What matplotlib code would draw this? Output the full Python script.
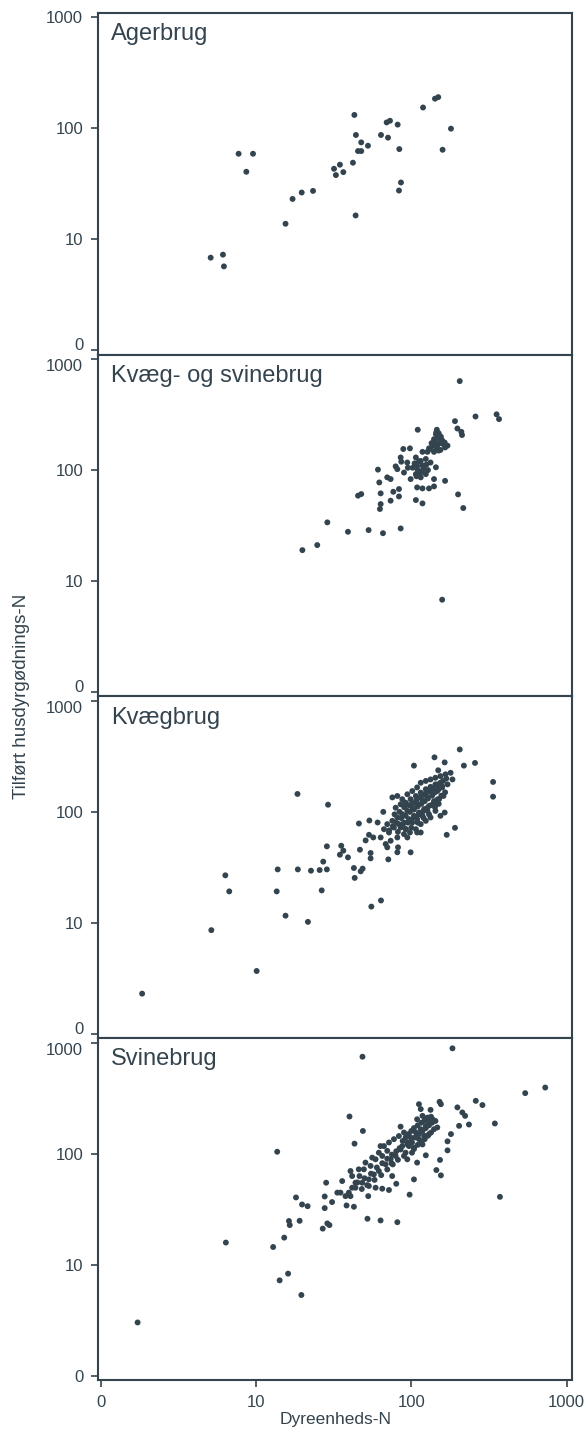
import matplotlib
matplotlib.use("Agg")
import matplotlib.pyplot as plt
import numpy as np

# panel names
panels = ["Agerbrug", "Kvæg- og svinebrug", "Kvægbrug", "Svinebrug"]

# Agerbrug (dyreenheds-N, tilfoert husdyrgoednings-N)
agerbrug_x = [5.11, 6.13, 6.22, 7.73, 9.57, 8.67, 15.5, 17.2, 19.7, 23.3, 31.8, 32.7,
              34.7, 36.5, 42.1, 43.0, 44.0, 43.8, 45.4, 47.6, 47.6, 52.6, 63.8, 70.8,
              69.4, 72.9, 81.7, 83.7, 85.8, 83.3, 119, 142, 149, 159, 180]
agerbrug_y = [6.83, 7.27, 5.70, 59.0, 59.0, 40.6, 13.8, 23.1, 26.4, 27.3, 43.2, 37.9,
              47.0, 40.3, 49.0, 132, 87.1, 16.4, 62.4, 62.4, 74.7, 69.7, 87.1, 82.4,
              113, 117, 108, 65.0, 32.5, 27.5, 154, 185, 191, 64.1, 99.3]

kvaeg_svin_x = [205, 259, 354, 367, 191, 198, 210, 212, 110,
                146, 144, 151, 140, 156, 135, 164, 147, 171, 130, 154, 140, 127, 118,
                88.8, 98, 85.4, 79.3, 86.2, 94.2, 107, 115, 124, 133, 144, 109, 118,
                124, 107, 99, 115, 140, 165, 89.7, 81.3, 70, 73.6, 61, 62.2, 76.6,
                83.3, 83.3, 109, 118, 130, 140, 63.5, 47.6, 45.4, 73.6, 107, 118, 200,
                216, 63.5, 62.8, 28.8, 24.8, 19.9, 39.1, 53.1, 65.7, 85.4, 158,
                145, 150, 155, 148, 158, 142, 152, 160, 137, 145, 165, 150, 132,
                105, 110, 120, 112, 125, 115, 102, 128, 95, 118, 108]
kvaeg_svin_y = [634, 304, 318, 288, 276, 237, 221, 207, 231,
                231, 211, 204, 190, 188, 175, 177, 166, 166, 157, 152, 146, 146, 146,
                155, 157, 130, 108, 119, 117, 130, 121, 126, 117, 106, 109, 98.6,
                92, 92, 83, 86, 83, 80, 95, 102, 86, 83, 101, 77.4, 63.8,
                67.5, 57.9, 69.8, 68.4, 68.4, 71.3, 61.7, 60.8, 58.8, 53, 53.7, 50.1, 60.4,
                45.5, 49.4, 44.6, 33.8, 21.1, 19.0, 27.8, 28.8, 27.0, 29.8, 6.79,
                220, 215, 200, 195, 185, 180, 175, 172, 165, 160, 160, 150, 155,
                115, 100, 105, 120, 112, 95, 105, 100, 105, 110, 88]

kvaeg_x = [1.85, 5.16, 6.35, 6.73, 10.1, 13.6, 15.5, 13.8, 18.5, 18.6, 21.6, 22.6,
           25.7, 28.6, 26.5, 27.1, 28.6, 29.1, 35.4, 34.7, 36.5, 39.1, 42.7, 43.2,
           47.2, 48.6, 46.7, 46.0, 53.7, 60.7, 66.0, 54.7, 54.7, 50.8, 55.3, 63.8,
           56.9, 53.4, 70.0, 71.1, 81.3, 82.1, 99.0, 169, 191, 336, 336, 205, 141,
           164, 218, 257, 104, 149,
           75.5, 81.3, 87.5, 94.3, 101.5, 109, 115, 124, 133, 143, 154, 166, 179,
           184, 171, 158, 147, 137, 127, 118, 109, 101.5, 94.3, 87.5, 81.3, 75.5,
           70, 66.7, 71.8, 77.3, 83.3, 89.7, 96.6, 104, 112, 121, 130, 140, 151,
           161, 164, 154, 143, 133, 124, 115, 107, 98, 89.7, 81.3, 73.6, 68.4,
           63.5, 79.3, 85.4, 92, 99, 107, 115, 124, 133, 143, 154, 127, 118, 109,
           101.5, 121, 130, 140, 92, 85.4, 94.3, 109, 115,
           78, 84, 90, 96, 102, 108, 114, 120, 126, 132, 138, 146, 152, 160, 168,
           80, 86, 92, 98, 104, 110, 116, 122, 128, 136, 142, 150, 158,
           88, 95, 100, 106, 112, 118, 126, 134, 140, 148, 156, 165,
           72, 76, 82, 92, 100, 110, 120, 130, 142, 150]
kvaeg_y = [2.30, 8.59, 26.8, 19.2, 3.68, 19.2, 11.6, 30.3, 145, 30.3, 10.2, 29.5,
           29.9, 30.3, 19.6, 35.6, 48.9, 116, 49.5, 41.1, 44.7, 38.9, 31.2, 25.4,
           29.1, 30.8, 45.6, 78.5, 83.6, 80.2, 100, 42.6, 38.1, 55.3, 14.0, 15.9,
           58.8, 62.1, 47.9, 37.3, 43.2, 47.9, 43.2, 62.1, 71.8, 186, 137, 365, 310,
           279, 261, 276, 261, 237,
           135, 139, 130, 144, 154, 166, 183, 190, 196, 203, 210, 218, 225,
           196, 177, 166, 154, 144, 135, 126, 117, 109, 102, 95.3, 89, 83,
           77.5, 69.8, 65.2, 72.3, 77.5, 80.2, 86, 92.1, 98.6, 106, 113, 121, 130,
           139, 98.6, 92.1, 102, 89, 83, 77.5, 69.8, 65.2, 63, 58.8, 54.9, 51.3,
           58.8, 109, 117, 121, 130, 139, 149, 160, 168, 177, 183, 102, 92.1, 86,
           80.2, 144, 154, 160, 69.8, 72.3, 58.8, 65.2, 65.2,
           95, 100, 110, 115, 120, 128, 135, 142, 150, 158, 165, 172, 180, 190, 200,
           80, 88, 92, 100, 105, 112, 118, 125, 132, 140, 150, 160, 170,
           75, 80, 85, 90, 95, 100, 108, 115, 125, 130, 140, 150,
           68, 74, 66, 70, 72, 80, 88, 95, 110, 118]

svin_x = [1.73, 6.40, 13.7, 14.2, 16.1, 19.6, 12.9, 15.2, 16.3, 16.5, 19.1, 18.1,
          19.8, 21.5, 26.9, 28.8, 29.7, 27.7, 27.7, 28.3, 30.9, 40.0, 48.8, 43.1,
          48.5, 184, 541, 728, 372, 345, 260, 287, 235, 203, 198, 213, 222, 153,
          145, 155, 81.3, 63.4, 52.2, 52.8, 53.3, 58.9, 65.0, 71.8, 80.0, 97.5,
          104, 75.3, 74.6, 109, 124, 171, 171, 180, 155, 152, 133, 112, 115, 85.3,
          38.3, 42.7,
          37.7, 39.6, 41.6, 43.7, 46.4, 49.5, 54.7, 58.9, 61.8, 66.7, 71.8, 77.3,
          83.2, 89.7, 96.6, 101, 91.9, 85.3, 79.2, 73.6, 68.3, 61.8, 57.4, 53.3,
          48.3, 43.7, 40.6, 35.0, 35.9, 33.4, 40.6, 41.6, 45.9, 50.7, 56.0, 63.4,
          65.0, 70.0, 87.5, 94.2, 99.0, 107, 115, 124, 130, 137, 143, 147, 140,
          130, 121, 112, 104, 109, 118, 127, 89.7, 94.2, 101, 118, 122,
          88, 92, 96, 100, 104, 110, 116, 122, 128, 134,
          95, 100, 106, 112, 118, 124, 130, 136,
          104, 110, 116, 122, 128, 134,
          60, 65, 70, 75, 80, 84,
          45, 50, 55, 48, 52, 58, 64, 70, 76, 82]
svin_y = [3.01, 15.8, 104, 7.21, 8.29, 5.32, 14.4, 17.5, 24.7, 22.7, 24.8, 40.3,
          34.8, 33.6, 21.1, 23.5, 22.7, 32.3, 41.1, 54.7, 36.6, 216, 160, 123,
          747, 889, 351, 394, 40.8, 187, 299, 274, 183, 178, 261, 235, 219, 87.7,
          71.1, 63.7, 24.1, 25.0, 25.9, 41.4, 51.1, 49.3, 48.3, 47.0, 53.5, 42.7,
          58.6, 62.8, 81.8, 83.0, 96.6, 107, 129, 150, 279, 293, 248, 279, 252, 175,
          34.1, 33.2,
          41.4, 44.5, 49.3, 54.7, 62.8, 72.2, 77.5, 88.9, 102, 117, 126, 135,
          144, 155, 117, 126, 102, 109, 95.3, 88.9, 80.1, 69.7, 65.0, 58.6,
          54.7, 49.3, 41.4, 44.5, 56.6, 44.5, 69.7, 62.8, 72.2, 83.0, 92.0, 117,
          95.3, 106, 117, 126, 140, 155, 166, 178, 191, 204, 197, 172, 166,
          150, 144, 135, 113, 204, 219, 211, 95.3, 88.9, 102, 121, 144,
          130, 140, 150, 160, 170, 180, 190, 200, 210, 215,
          120, 130, 140, 150, 160, 170, 180, 190,
          110, 120, 128, 135, 145, 155,
          75, 82, 90, 98, 105, 112,
          55, 60, 66, 48, 52, 58, 64, 72, 80, 88]

xs = [agerbrug_x, kvaeg_svin_x, kvaeg_x, svin_x]
ys = [agerbrug_y, kvaeg_svin_y, kvaeg_y, svin_y]

ticks = [1, 10, 100, 1000]
tick_labels = ["0", "10", "100", "1000"]

ink = "#34444f"
plt.rcParams["font.family"] = ["Liberation Sans", "DejaVu Sans"]

fig, axes = plt.subplots(4, 1, figsize=(5.86, 14.36), dpi=100, sharex=True)
fig.subplots_adjust(left=0.168, right=0.976, top=0.991, bottom=0.039, hspace=0)

for i, (ax, name, x, y) in enumerate(zip(axes, panels, xs, ys)):
    ax.scatter(x, y, s=18, color=ink, edgecolors="none", zorder=3)
    ax.set_xscale("log")
    ax.set_yscale("log")
    ax.set_xlim(10 ** -0.014, 10 ** 3.034)
    ax.set_ylim(10 ** -0.04, 10 ** 3.04)
    ax.set_yticks(ticks)
    ax.set_yticklabels(tick_labels)
    ax.set_xticks(ticks)
    ax.set_xticklabels(tick_labels)
    ax.minorticks_off()
    ax.tick_params(direction="out", length=5, width=1.2, color=ink,
                   labelcolor=ink, labelsize=12, pad=6)
    for sp in ax.spines.values():
        sp.set_color(ink)
        sp.set_linewidth(1.5)
    # keep "0" and "1000" apart where two panels meet
    labs = ax.get_yticklabels()
    if i < len(axes) - 1:
        labs[0].set_va("baseline")
    if i > 0:
        labs[-1].set_va("top")
    ax.text(0.027, 0.97, name, transform=ax.transAxes, ha="left", va="top",
            fontsize=17, color=ink)

axes[-1].set_xlabel("Dyreenheds-N", fontsize=12.5, color=ink, labelpad=1)
fig.text(0.036, 0.515, "Tilført husdyrgødnings-N", rotation=90, ha="center",
         va="center", fontsize=13.5, color=ink)

fig.savefig("out.png", dpi=100)
